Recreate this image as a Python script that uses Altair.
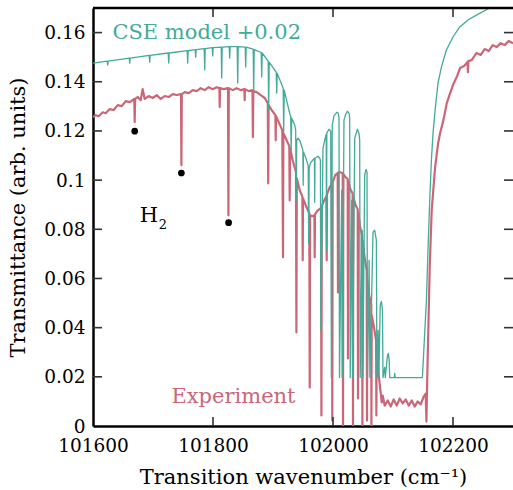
import altair as alt
import pandas as pd

TEAL = "#44AA99"
ROSE = "#CC6677"
FONT = "DejaVu Serif"

# ---- CSE model (+0.02) ----
model_wn = [
    101600.0,
    101623.7, 101624.5, 101625.3,
    101660.3, 101661.2, 101662.0,
    101693.7, 101694.5, 101695.3,
    101725.3, 101726.2, 101727.0,
    101757.0, 101757.8, 101758.7,
    101770.3, 101771.2, 101772.0,
    101785.3, 101786.2, 101787.0,
    101798.7, 101799.5, 101800.3,
    101813.7, 101814.5, 101815.3,
    101827.0, 101827.8, 101828.7,
    101840.3, 101841.2, 101842.0,
    101853.7, 101854.5, 101855.3,
    101867.0, 101867.8, 101868.7,
    101880.3, 101881.2, 101882.0,
    101892.0, 101892.8, 101893.7,
    101905.3, 101906.2, 101907.0,
    101917.0, 101917.8, 101918.7,
    101927.8,
    101929.5, 101930.3, 101931.2,
    101936.2,
    101937.8, 101938.7, 101939.5,
    101941.7, 101944.5, 101947.8,
    101949.8, 101950.3, 101950.8,
    101953.7, 101957.0,
    101958.7, 101959.5, 101960.3,
    101962.3, 101966.2,
    101969.0, 101969.5, 101970.0,
    101975.0, 101977.8,
    101979.0, 101979.8,
    101983.3, 101987.8,
    101988.7, 101989.2, 101989.7,
    101993.3, 101996.2, 101997.3,
    101998.7, 102001.5, 102006.2, 102008.8, 102010.0, 102010.8,
    102014.5, 102015.3,
    102018.3, 102021.2, 102024.0, 102026.7, 102027.8, 102028.7,
    102031.2, 102032.8,
    102036.2, 102038.7, 102040.7, 102043.3, 102044.5, 102045.3,
    102048.7, 102049.8,
    102052.8, 102055.0, 102056.7, 102057.5,
    102060.2, 102061.5,
    102066.7, 102069.5, 102072.3, 102073.2,
    102075.3, 102076.5,
    102078.7, 102080.7, 102082.5, 102083.3,
    102086.2, 102087.2,
    102090.8, 102092.2, 102093.7, 102094.5,
    102102.2, 102102.8, 102103.7,
    102149.0, 102152.8, 102155.7, 102158.3, 102161.2, 102164.0,
    102166.7, 102170.7, 102175.0, 102180.7, 102189.0, 102200.0,
    102211.2, 102225.0, 102239.0, 102261.2, 102300.0,
]
model_T = [
    0.1476,
    0.1484, 0.1468, 0.1484,
    0.1496, 0.1476, 0.1496,
    0.1507, 0.1480, 0.1507,
    0.1517, 0.1476, 0.1517,
    0.1527, 0.1476, 0.1527,
    0.1531, 0.1500, 0.1531,
    0.1535, 0.1448, 0.1535,
    0.1539, 0.1505, 0.1539,
    0.1541, 0.1415, 0.1541,
    0.1543, 0.1496, 0.1543,
    0.1543, 0.1395, 0.1543,
    0.1541, 0.1460, 0.1541,
    0.1533, 0.1358, 0.1531,
    0.1519, 0.1419, 0.1517,
    0.1484, 0.1285, 0.1480,
    0.1439, 0.1354, 0.1435,
    0.1374, 0.1195, 0.1366,
    0.1272,
    0.1260, 0.1122, 0.1252,
    0.1224,
    0.1203, 0.0918, 0.1162,
    0.1171, 0.1162, 0.1138,
    0.1122, 0.0979, 0.1114,
    0.1097, 0.1073,
    0.1057, 0.0743, 0.1049,
    0.1069, 0.1081,
    0.1089, 0.0910, 0.1089,
    0.1097, 0.1089,
    0.1081, 0.0389,
    0.1130, 0.1179,
    0.1187, 0.0715, 0.1191,
    0.1207, 0.1199, 0.0197,
    0.1224, 0.1260, 0.1276, 0.1272, 0.1252, 0.0197,
    0.0959, 0.0197,
    0.1244, 0.1268, 0.1280, 0.1272, 0.1252, 0.0197,
    0.0918, 0.0197,
    0.1171, 0.1191, 0.1207, 0.1191, 0.1162, 0.0197,
    0.0796, 0.0197,
    0.1020, 0.1044, 0.1032, 0.0197,
    0.0674, 0.0197,
    0.0788, 0.0796, 0.0755, 0.0197,
    0.0389, 0.0197,
    0.0491, 0.0507, 0.0470, 0.0197,
    0.0238, 0.0197,
    0.0287, 0.0295, 0.0267, 0.0197,
    0.0197, 0.0214, 0.0197,
    0.0197, 0.0377, 0.0511, 0.0715, 0.0918, 0.1081,
    0.1191, 0.1297, 0.1395, 0.1460, 0.1529, 0.1582,
    0.1623, 0.1651, 0.1671, 0.1700, 0.1733,
]

# ---- Experiment ----
expt_wn = [
    101600.0, 101604.5, 101609.5, 101616.2, 101621.2, 101627.8, 101634.5,
    101641.2, 101647.8, 101654.5, 101661.2,
    101668.8, 101669.5, 101670.2,
    101674.5, 101679.5, 101682.8, 101686.2, 101692.8, 101699.5, 101706.2,
    101712.8, 101719.5, 101726.2, 101732.8, 101739.5,
    101746.7, 101747.3, 101748.0,
    101752.8, 101759.5, 101766.2, 101772.8, 101779.5, 101786.2, 101792.8,
    101799.5, 101806.2,
    101810.7, 101811.2, 101811.7,
    101817.8,
    101825.0, 101825.7, 101826.3,
    101832.8, 101839.5, 101846.2,
    101852.3, 101852.8, 101853.3,
    101859.5,
    101865.8, 101866.5, 101867.2,
    101872.8, 101879.5, 101886.2,
    101891.3, 101892.0, 101892.7,
    101897.8,
    101904.0, 101904.5, 101905.0,
    101909.5,
    101915.5, 101916.7, 101917.3,
    101921.2,
    101927.2, 101927.8, 101928.5,
    101932.8,
    101938.3, 101939.0, 101939.7,
    101944.5,
    101949.0, 101949.5, 101950.0,
    101954.5,
    101960.5, 101961.2, 101961.8,
    101965.3,
    101969.0, 101969.5, 101970.0,
    101974.5,
    101980.0, 101980.7, 101981.3,
    101985.3,
    101989.0, 101989.5, 101990.0,
    101994.5,
    101998.2, 101998.8, 101999.5,
    102003.7,
    102007.8, 102008.3, 102008.8,
    102012.0,
    102016.2, 102016.7, 102017.2,
    102021.2,
    102024.5, 102025.0, 102025.5,
    102029.5,
    102032.8, 102033.3, 102033.8,
    102037.8,
    102041.2, 102041.7, 102042.2,
    102045.3,
    102048.5, 102049.0, 102049.5,
    102052.8,
    102056.2, 102056.7, 102057.2,
    102060.3,
    102063.8, 102064.0, 102064.5,
    102067.8,
    102071.8, 102072.3, 102072.8,
    102076.2, 102079.5, 102081.2, 102082.8, 102086.2,
    102091.2, 102096.2, 102101.2, 102106.2, 102111.2, 102116.2, 102121.2,
    102126.2, 102131.2, 102136.2, 102141.2, 102146.2, 102151.2, 102154.5,
    102155.7, 102157.0, 102161.2, 102164.5, 102170.2, 102175.2, 102178.5,
    102184.0, 102189.7, 102195.2, 102200.7, 102206.8, 102211.8, 102218.5,
    102224.2, 102224.8, 102225.5,
    102231.2, 102239.0, 102246.2, 102252.8, 102259.5, 102266.2, 102272.8,
    102279.5, 102286.2, 102292.8, 102300.0,
]
expt_T = [
    0.1256, 0.1264, 0.1260, 0.1276, 0.1272, 0.1289, 0.1285,
    0.1305, 0.1301, 0.1321, 0.1317,
    0.1330, 0.1236, 0.1330,
    0.1338, 0.1325, 0.1370, 0.1330, 0.1342, 0.1334, 0.1346,
    0.1330, 0.1342, 0.1338, 0.1350, 0.1346,
    0.1350, 0.1061, 0.1350,
    0.1358, 0.1354, 0.1366, 0.1362, 0.1374, 0.1366, 0.1378,
    0.1370, 0.1378,
    0.1374, 0.1297, 0.1374,
    0.1370,
    0.1374, 0.0857, 0.1374,
    0.1366, 0.1374, 0.1366,
    0.1370, 0.1325, 0.1370,
    0.1362,
    0.1366, 0.1175, 0.1362,
    0.1358, 0.1346, 0.1334,
    0.1313, 0.0987, 0.1305,
    0.1285,
    0.1264, 0.1162, 0.1260,
    0.1236,
    0.1203, 0.0686, 0.1191,
    0.1171,
    0.1138, 0.0918, 0.1130,
    0.1081,
    0.1032, 0.0381, 0.1008,
    0.0959,
    0.0934, 0.0674, 0.0926,
    0.0898,
    0.0865, 0.0157, 0.0857,
    0.0853,
    0.0857, 0.0686, 0.0861,
    0.0877,
    0.0886, 0.0043, 0.0894,
    0.0918,
    0.0934, 0.0674, 0.0942,
    0.0971,
    0.0987, 0.0022, 0.0991,
    0.1020,
    0.1028, 0.0543, 0.1032,
    0.1032,
    0.1028, 0.0002, 0.1024,
    0.1012,
    0.1004, 0.0275, 0.0995,
    0.0959,
    0.0946, 0.0002, 0.0930,
    0.0898,
    0.0881, 0.0112, 0.0869,
    0.0808,
    0.0776, 0.0002, 0.0755,
    0.0682,
    0.0633, 0.0022, 0.0593,
    0.0532,
    0.0491, 0.0002, 0.0450,
    0.0409,
    0.0348, 0.0043, 0.0307,
    0.0206, 0.0136, 0.0096, 0.0124, 0.0083,
    0.0104, 0.0079, 0.0108, 0.0083, 0.0112, 0.0092, 0.0108,
    0.0083, 0.0104, 0.0079, 0.0100, 0.0088, 0.0120, 0.0132,
    0.0018, 0.0185, 0.0645, 0.0877, 0.1053, 0.1150, 0.1191,
    0.1244, 0.1313, 0.1354, 0.1391, 0.1423, 0.1456, 0.1464,
    0.1480, 0.1439, 0.1484,
    0.1488, 0.1517, 0.1509, 0.1533, 0.1525, 0.1549, 0.1541,
    0.1557, 0.1549, 0.1566, 0.1557,
]

# ---- H2 markers ----
h2_wn = [101669.5, 101747.3, 101826.0]
h2_T = [0.1199, 0.1029, 0.0827]

# ---- axes ----
x_domain = [101600, 102300]
y_domain = [0, 0.17]
x_ticks = [101600, 101800, 102000, 102200]
y_ticks = [0, 0.02, 0.04, 0.06, 0.08, 0.1, 0.12, 0.14, 0.16]
x_inner_ticks = [101800, 102000, 102200]
y_inner_ticks = [0.02, 0.04, 0.06, 0.08, 0.1, 0.12, 0.14, 0.16]
x_tick_len = 15.0      # in wavenumber units
y_tick_len = 0.0037    # in transmittance units

XTITLE = "Transition wavenumber (cm\u207b\u00b9)"
YTITLE = "Transmittance (arb. units)"

# ---- text labels ----
lab_text = ["CSE model +0.02", "Experiment", "H", "2"]
lab_wn = [101632.3, 101730.7, 101677.8, 101709.5]
lab_T = [0.1572, 0.0093, 0.0830, 0.0800]
lab_color = [TEAL, ROSE, "black", "black"]
lab_size = [21, 21, 21, 13]

xscale = alt.Scale(domain=x_domain, nice=False, zero=False)
yscale = alt.Scale(domain=y_domain, nice=False, zero=False)

x_enc = alt.X(
    "wn:Q", scale=xscale, title=XTITLE,
    axis=alt.Axis(
        values=x_ticks, format="d", ticks=False, grid=False,
        domainColor="black", domainWidth=2.5,
        labelFont=FONT, labelFontSize=18.5, labelColor="black",
        labelPadding=10, labelFlush=False, labelOverlap=False,
        titleFont=FONT, titleFontSize=21, titleFontWeight="normal",
        titleColor="black", titlePadding=12,
    ),
)
y_enc = alt.Y(
    "T:Q", scale=yscale, title=YTITLE,
    axis=alt.Axis(
        values=y_ticks, format="~g", ticks=False, grid=False,
        domainColor="black", domainWidth=2.5,
        labelFont=FONT, labelFontSize=18.5, labelColor="black",
        labelPadding=8, labelFlush=False, labelOverlap=False,
        titleFont=FONT, titleFontSize=21, titleFontWeight="normal",
        titleColor="black", titlePadding=15,
    ),
)

df_model = pd.DataFrame({"wn": model_wn, "T": model_T})
df_expt = pd.DataFrame({"wn": expt_wn, "T": expt_T})
df_h2 = pd.DataFrame({"wn": h2_wn, "T": h2_T})

# inward ticks (in data units)
rows = []
for t in x_inner_ticks:
    rows.append({"wn": t, "wn2": t, "T": y_domain[0], "T2": y_domain[0] + y_tick_len})
    rows.append({"wn": t, "wn2": t, "T": y_domain[1], "T2": y_domain[1] - y_tick_len})
for t in y_inner_ticks:
    rows.append({"wn": x_domain[0], "wn2": x_domain[0] + x_tick_len, "T": t, "T2": t})
    rows.append({"wn": x_domain[1], "wn2": x_domain[1] - x_tick_len, "T": t, "T2": t})
df_ticks = pd.DataFrame(rows)
df_top = pd.DataFrame([{"wn": x_domain[0], "wn2": x_domain[1], "T": y_domain[1], "T2": y_domain[1]}])

expt_line = alt.Chart(df_expt).mark_line(
    color=ROSE, strokeWidth=2.2, clip=True, strokeJoin="round"
).encode(x=x_enc, y=y_enc, order="wn:Q")

model_line = alt.Chart(df_model).mark_line(
    color=TEAL, strokeWidth=1.3, clip=True, strokeJoin="round"
).encode(x=x_enc, y=y_enc, order="wn:Q")

dots = alt.Chart(df_h2).mark_circle(color="black", size=45, opacity=1).encode(x=x_enc, y=y_enc)

ticks = alt.Chart(df_ticks).mark_rule(color="#333333", strokeWidth=1.6).encode(
    x=x_enc, x2=alt.X2("wn2", title=XTITLE), y=y_enc, y2=alt.Y2("T2", title=YTITLE)
)
top = alt.Chart(df_top).mark_rule(color="black", strokeWidth=2.5).encode(
    x=x_enc, x2=alt.X2("wn2", title=XTITLE), y=y_enc, y2=alt.Y2("T2", title=YTITLE)
)

text_layers = []
for txt, w, tv, c, s in zip(lab_text, lab_wn, lab_T, lab_color, lab_size):
    d = pd.DataFrame({"wn": [w], "T": [tv], "label": [txt]})
    text_layers.append(
        alt.Chart(d).mark_text(
            align="left", baseline="alphabetic", font=FONT, fontSize=s, color=c
        ).encode(x=x_enc, y=y_enc, text="label:N")
    )

chart = alt.layer(expt_line, model_line, dots, ticks, top, *text_layers).properties(
    width=420,
    height=418,
    padding={"left": 93, "top": 8, "right": 0, "bottom": 64},
    autosize=alt.AutoSizeParams(type="none"),
    background="white",
).configure_view(strokeWidth=0)

chart.save("out.html", embed_options={"renderer": "svg", "actions": False})
